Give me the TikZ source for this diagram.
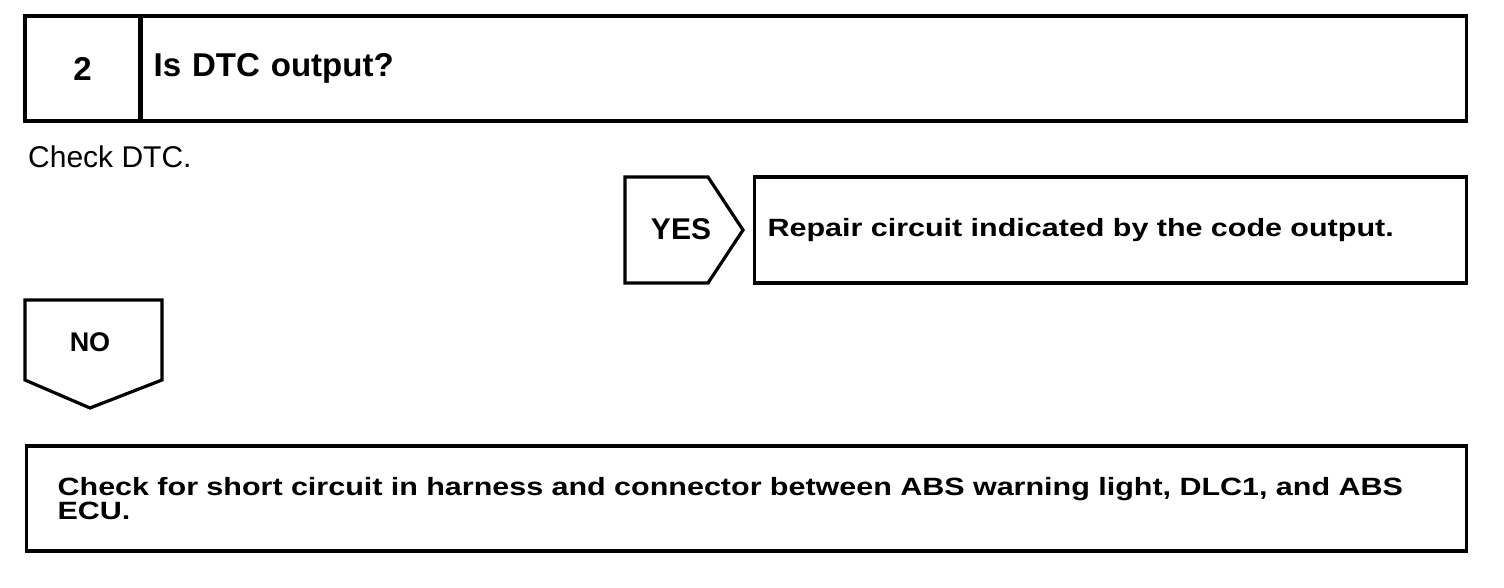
\documentclass[tikz,border=0pt]{standalone}
\usepackage{fontspec}
\setmainfont{Liberation Sans}
\newfontfamily\widesans[FakeStretch=1.22]{Liberation Sans}

\begin{document}
\begin{tikzpicture}[x=1pt, y=-1pt,
  cell/.style={draw, rectangle, line width=3.2pt, inner ysep=0pt},
  outline/.style={draw, line width=3.2pt, line join=miter},
  bodytext/.style={font=\widesans\fontsize{25}{24}\selectfont\bfseries}]
\useasboundingbox (0,0) rectangle (1504,588);
% step header
\node[cell, minimum width=115pt, minimum height=105pt, font=\fontsize{33}{38}\selectfont\bfseries] (num) at (82.5,68.5) {2};
\node[cell, anchor=west, minimum height=105pt, text width=1301pt, inner xsep=12pt, align=left, font=\fontsize{33}{38}\selectfont\bfseries] (question) at (140,68.5) {Is DTC output?};
\node[anchor=base west, inner sep=0pt, font=\fontsize{30}{36}\selectfont] (check) at (28,168) {Check DTC.};
% yes branch
\node[font=\fontsize{30}{36}\selectfont\bfseries] (yes) at (681,229) {YES};
\draw[outline] (625,177) -- (708,177) -- (743,230) -- (708,283) -- (625,283) -- cycle;
\node[cell, bodytext, anchor=west, minimum height=106pt, text width=686pt, inner xsep=13pt, align=left] (repair) at (753,230) {Repair circuit indicated by the code output.};
% no branch
\node[font=\fontsize{27}{30}\selectfont\bfseries] (no) at (90,342) {NO};
\draw[outline] (25,300) -- (162,300) -- (162,380) -- (90,408) -- (25,380) -- cycle;
\node[cell, bodytext, anchor=west, minimum height=105pt, text width=1378pt, inner xsep=31pt, align=left] (short) at (25,498.5) {Check for short circuit in harness and connector between ABS warning light, DLC1, and ABS\\ECU.};
\end{tikzpicture}
\end{document}
